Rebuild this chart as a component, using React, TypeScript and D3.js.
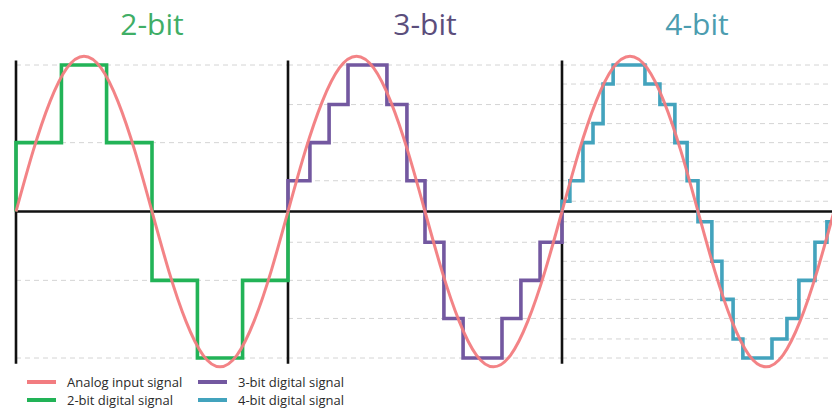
import React from "react";
import * as d3 from "d3";

// ---- data ----
const panelTitles = ["2-bit", "3-bit", "4-bit"];

// analog input: values read at 1/16-period intervals
const analogValues = [0, 0.41, 0.75, 0.98, 1.06, 0.98, 0.75, 0.41, 0, -0.41, -0.75, -0.98, -1.06, -0.98, -0.75, -0.41, 0];

// quantization levels (positive side, normalised to top level = 1)
const levels2 = [0.47, 1];
const levels3 = [0.21, 0.47, 0.73, 1];
const levels4 = [0.07, 0.21, 0.34, 0.47, 0.6, 0.73, 0.87, 1];

// step signals: start phase of each held sample (last entry = end) and held value
const steps2Phase = [0, 0.167, 0.333, 0.5, 0.667, 0.833, 1];
const steps2Value = [0.47, 1, 0.47, -0.47, -1, -0.47];

const steps3Phase = [0, 0.08, 0.15, 0.219, 0.361, 0.434, 0.5, 0.569, 0.639, 0.781, 0.85, 0.92, 1];
const steps3Value = [0.21, 0.47, 0.73, 1, 0.73, 0.21, -0.21, -0.73, -1, -0.73, -0.47, -0.21];

const steps4Phase = [0, 0.029, 0.077, 0.114, 0.151, 0.188, 0.305, 0.36, 0.415, 0.46, 0.5, 0.551, 0.588, 0.629, 0.665, 0.772, 0.827, 0.871, 0.93, 0.974, 1];
const steps4Value = [0.07, 0.21, 0.47, 0.6, 0.87, 1, 0.87, 0.73, 0.47, 0.21, -0.07, -0.34, -0.6, -0.87, -1, -0.87, -0.73, -0.47, -0.21, -0.07];

const legendLabels = ["Analog input signal", "2-bit digital signal", "3-bit digital signal", "4-bit digital signal"];

// ---- styles ----
const W = 832;
const H = 410;
const analogColor = "#f27c80";
const digitalColors = ["#22b357", "#7358a0", "#43a3bd"];
const titleColors = ["#3fae66", "#5b4e7c", "#4c9db0"];
const panelX = [[16, 288], [288, 562], [562, 834]];

export default function App() {
  const y = d3.scaleLinear().domain([-1, 1]).range([358, 65]);
  const panels = [
    { levels: levels2, phase: steps2Phase, value: steps2Value },
    { levels: levels3, phase: steps3Phase, value: steps3Value },
    { levels: levels4, phase: steps4Phase, value: steps4Value },
  ];

  return (
    <svg width={W} height={H} style={{ position: "absolute", left: 0, top: 0, background: "#fff" }}>
      <defs>
        <clipPath id="clipAll">
          <rect x={0} y={0} width={W} height={H} />
        </clipPath>
      </defs>
      <rect x={0} y={0} width={W} height={H} fill="#fff" />
      {/* grid lines */}
      {panels.map((p, i) => {
        const x = d3.scaleLinear().domain([0, 1]).range(panelX[i]);
        const all = p.levels.flatMap((l) => [l, -l]);
        return (
          <g key={"g" + i}>
            {all.map((l, j) => (
              <line
                key={j}
                x1={x(0)}
                x2={Math.min(x(1), W)}
                y1={y(l)}
                y2={y(l)}
                stroke="#d4d4d4"
                strokeWidth={1}
                strokeDasharray="5,4"
              />
            ))}
          </g>
        );
      })}
      {/* axes */}
      <line x1={panelX[0][0]} x2={W} y1={y(0)} y2={y(0)} stroke="#111" strokeWidth={2.6} />
      {panelX.map((px, i) => (
        <line key={"ax" + i} x1={px[0]} x2={px[0]} y1={y(1.03)} y2={y(-1.04)} stroke="#111" strokeWidth={2.6} />
      ))}
      {/* digital step signals */}
      {panels.map((p, i) => {
        const x = d3.scaleLinear().domain([0, 1]).range(panelX[i]);
        const pts: [number, number][] = [[p.phase[0], 0]];
        p.value.forEach((v, k) => pts.push([p.phase[k], v]));
        pts.push([p.phase[p.phase.length - 1], p.value[p.value.length - 1]]);
        pts.push([p.phase[p.phase.length - 1], 0]);
        const line = d3
          .line<[number, number]>()
          .x((d) => x(d[0]))
          .y((d) => y(d[1]))
          .curve(d3.curveStepAfter);
        return (
          <path
            key={"s" + i}
            d={line(pts) || ""}
            fill="none"
            stroke={digitalColors[i]}
            strokeWidth={3.6}
            strokeLinejoin="miter"
            clipPath="url(#clipAll)"
          />
        );
      })}
      {/* analog signal */}
      {panels.map((p, i) => {
        const x = d3.scaleLinear().domain([0, analogValues.length - 1]).range(panelX[i]);
        const line = d3
          .line<number>()
          .x((_, k) => x(k))
          .y((d) => y(d))
          .curve(d3.curveNatural);
        return (
          <path
            key={"a" + i}
            d={line(analogValues) || ""}
            fill="none"
            stroke={analogColor}
            strokeWidth={3}
            strokeOpacity={0.95}
            clipPath="url(#clipAll)"
          />
        );
      })}
      {/* titles */}
      {panelTitles.map((t, i) => (
        <text
          key={"t" + i}
          x={(panelX[i][0] + Math.min(panelX[i][1], W)) / 2}
          y={35}
          textAnchor="middle"
          fontFamily="'Open Sans', sans-serif"
          fontSize={30}
          fill={titleColors[i]}
        >
          {t}
        </text>
      ))}
      {/* legend */}
      {legendLabels.map((lab, i) => {
        const col = Math.floor(i / 2);
        const row = i % 2;
        const sx = col === 0 ? 27 : 198;
        const sy = row === 0 ? 382 : 400;
        const color = i === 0 ? analogColor : digitalColors[i - 1];
        return (
          <g key={"l" + i}>
            <line x1={sx} x2={sx + 29} y1={sy} y2={sy} stroke={color} strokeWidth={4} />
            <text
              x={sx + 40}
              y={sy + 4.5}
              fontFamily="'Open Sans', sans-serif"
              fontSize={13}
              fill="#2a2a2a"
            >
              {lab}
            </text>
          </g>
        );
      })}
    </svg>
  );
}
